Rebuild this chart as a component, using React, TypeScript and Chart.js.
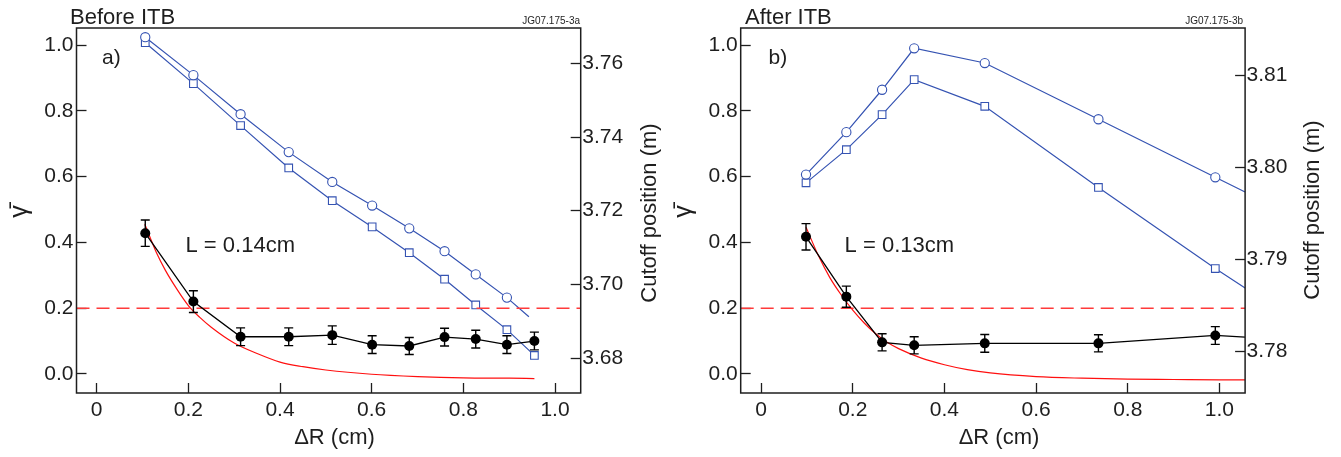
import { useEffect, useRef } from 'react';
import { Chart, registerables } from 'chart.js';

Chart.register(...registerables);

const FONT = '"Liberation Sans", Arial, Helvetica, sans-serif';
const INK = '#1e1e1e';
const BLUE = '#3553b2';

// ---- shared tick arrays ----
const xTickValues = [0, 0.2, 0.4, 0.6, 0.8, 1.0];
const xTickLabels = ['0', '0.2', '0.4', '0.6', '0.8', '1.0'];
const gammaTickValues = [0, 0.2, 0.4, 0.6, 0.8, 1.0];
const gammaTickLabels = ['0.0', '0.2', '0.4', '0.6', '0.8', '1.0'];
const threshold = 0.2;

// ---- panel a (Before ITB) ----
const aX = [0.106, 0.211, 0.314, 0.419, 0.514, 0.601, 0.682, 0.759, 0.827, 0.895, 0.955];
const aGamma = [0.428, 0.220, 0.113, 0.113, 0.118, 0.089, 0.085, 0.112, 0.106, 0.089, 0.100];
const aErr = [0.040, 0.033, 0.027, 0.027, 0.028, 0.027, 0.026, 0.027, 0.027, 0.027, 0.027];
const aCircleX = [0.106, 0.211, 0.314, 0.419, 0.514, 0.601, 0.682, 0.759, 0.827, 0.895, 0.943];
const aCircle = [3.7671, 3.7568, 3.7462, 3.7359, 3.7278, 3.7214, 3.7152, 3.7090, 3.7027, 3.6964, 3.6912];
const aSquareX = [0.106, 0.211, 0.314, 0.419, 0.514, 0.601, 0.682, 0.759, 0.827, 0.895, 0.955];
const aSquare = [3.7656, 3.7545, 3.7431, 3.7316, 3.7227, 3.7156, 3.7086, 3.7014, 3.6944, 3.6877, 3.6807];
const aFitX = [0.105, 0.13, 0.15, 0.175, 0.2, 0.225, 0.25, 0.3, 0.35, 0.4, 0.45, 0.5, 0.6, 0.7, 0.8, 0.9, 0.955];
const aFitY = [0.455, 0.37, 0.315, 0.258, 0.208, 0.172, 0.142, 0.094, 0.062, 0.036, 0.022, 0.012, -0.001, -0.008, -0.012, -0.013, -0.014];
const aCutoffTicks = [3.68, 3.70, 3.72, 3.74, 3.76];
const aCutoffLabels = ['3.68', '3.70', '3.72', '3.74', '3.76'];

// ---- panel b (After ITB) ----
const bX = [0.098, 0.186, 0.264, 0.334, 0.488, 0.736, 0.991, 1.056];
const bGamma = [0.417, 0.235, 0.096, 0.087, 0.093, 0.093, 0.117, 0.112];
const bErr = [0.040, 0.032, 0.026, 0.026, 0.027, 0.026, 0.027];
const bCircleX = [0.098, 0.186, 0.264, 0.334, 0.488, 0.736, 0.991, 1.056];
const bCircle = [3.7992, 3.8038, 3.8084, 3.8129, 3.8113, 3.8052, 3.7989, 3.7973];
const bSquareX = [0.098, 0.186, 0.264, 0.334, 0.488, 0.736, 0.991, 1.056];
const bSquare = [3.7983, 3.8019, 3.8057, 3.8095, 3.8066, 3.7978, 3.7890, 3.7869];
const bFitX = [0.098, 0.125, 0.15, 0.175, 0.2, 0.225, 0.25, 0.275, 0.3, 0.35, 0.4, 0.45, 0.5, 0.6, 0.7, 0.8, 0.9, 1.0, 1.056];
const bFitY = [0.446, 0.36, 0.293, 0.24, 0.194, 0.155, 0.122, 0.096, 0.077, 0.048, 0.028, 0.013, 0.003, -0.008, -0.013, -0.016, -0.017, -0.018, -0.018];
const bCutoffTicks = [3.78, 3.79, 3.80, 3.81];
const bCutoffLabels = ['3.78', '3.79', '3.80', '3.81'];

type Panel = {
  width: number;
  leftW: number;
  rightW: number;
  xMin: number;
  xMax: number;
  yMin: number;
  yMax: number;
  y2Min: number;
  y2Max: number;
  y2Ticks: number[];
  y2Labels: string[];
  gX: number[];
  g: number[];
  err: number[];
  gMarks: number;
  cX: number[];
  c: number[];
  cMarks: number;
  sX: number[];
  s: number[];
  sMarks: number;
  fX: number[];
  fY: number[];
  title: string;
  code: string;
  letter: string;
  lText: string;
  titleX: number;
  codeX: number;
  letterX: number;
  lX: number;
  gammaTitleX: number;
  cutTitleX: number;
  cutTitleY: number;
  xTitleX: number;
};

const panels: Panel[] = [
  {
    width: 670, leftW: 76.5, rightW: 89.3,
    xMin: -0.044, xMax: 1.056, yMin: -0.058, yMax: 1.052,
    y2Min: 3.6705, y2Max: 3.7696, y2Ticks: aCutoffTicks, y2Labels: aCutoffLabels,
    gX: aX, g: aGamma, err: aErr, gMarks: aX.length,
    cX: aCircleX, c: aCircle, cMarks: aCircleX.length - 1,
    sX: aSquareX, s: aSquare, sMarks: aSquareX.length,
    fX: aFitX, fY: aFitY,
    title: 'Before ITB', code: 'JG07.175-3a', letter: 'a)', lText: 'L = 0.14cm',
    titleX: 70, codeX: 580, letterX: 102, lX: 185.5,
    gammaTitleX: 20, cutTitleX: 650, cutTitleY: 213, xTitleX: 334.5,
  },
  {
    width: 671, leftW: 70.7, rightW: 95.9,
    xMin: -0.0445, xMax: 1.056, yMin: -0.058, yMax: 1.052,
    y2Min: 3.7755, y2Max: 3.8151, y2Ticks: bCutoffTicks, y2Labels: bCutoffLabels,
    gX: bX, g: bGamma, err: bErr, gMarks: bX.length - 1,
    cX: bCircleX, c: bCircle, cMarks: bCircleX.length - 1,
    sX: bSquareX, s: bSquare, sMarks: bSquareX.length - 1,
    fX: bFitX, fY: bFitY,
    title: 'After ITB', code: 'JG07.175-3b', letter: 'b)', lText: 'L = 0.13cm',
    titleX: 75, codeX: 573, letterX: 98.5, lX: 174.6,
    gammaTitleX: 14.5, cutTitleX: 643, cutTitleY: 210, xTitleX: 329,
  },
];

const decor = {
  id: 'decor',
  afterDatasetsDraw(chart: any, _args: any, opts: any) {
    const p: Panel = opts.panel;
    const { ctx, chartArea } = chart;
    const xs = chart.scales.x;
    const ys = chart.scales.y;
    ctx.save();
    // error bars
    ctx.strokeStyle = '#000';
    ctx.lineWidth = 1.4;
    p.err.forEach((e, i) => {
      const px = xs.getPixelForValue(p.gX[i]);
      const y1 = ys.getPixelForValue(p.g[i] + e);
      const y2 = ys.getPixelForValue(p.g[i] - e);
      ctx.beginPath();
      ctx.moveTo(px, y1);
      ctx.lineTo(px, y2);
      ctx.moveTo(px - 4.5, y1);
      ctx.lineTo(px + 4.5, y1);
      ctx.moveTo(px - 4.5, y2);
      ctx.lineTo(px + 4.5, y2);
      ctx.stroke();
    });
    // frame
    ctx.strokeStyle = INK;
    ctx.lineWidth = 1.5;
    ctx.strokeRect(chartArea.left, chartArea.top, chartArea.right - chartArea.left, chartArea.bottom - chartArea.top);
    ctx.restore();
  },
  afterDraw(chart: any, _args: any, opts: any) {
    const p: Panel = opts.panel;
    const { ctx, chartArea } = chart;
    ctx.save();
    ctx.fillStyle = INK;
    ctx.textAlign = 'left';
    ctx.textBaseline = 'alphabetic';
    ctx.font = `22px ${FONT}`;
    ctx.fillText(p.title, p.titleX, 24);
    ctx.font = `10px ${FONT}`;
    ctx.textAlign = 'right';
    ctx.fillText(p.code, p.codeX, 24);
    ctx.textAlign = 'left';
    ctx.font = `21px ${FONT}`;
    ctx.textBaseline = 'middle';
    ctx.fillText(p.letter, p.letterX, 58);
    ctx.textBaseline = 'alphabetic';
    ctx.font = `22px ${FONT}`;
    ctx.fillText(p.lText, p.lX, 252);
    // x title
    ctx.textAlign = 'center';
    ctx.textBaseline = 'middle';
    ctx.fillText('\u0394R (cm)', p.xTitleX, 438);
    // left y title
    const midY = (chartArea.top + chartArea.bottom) / 2;
    ctx.save();
    ctx.translate(p.gammaTitleX, midY + 1);
    ctx.rotate(-Math.PI / 2);
    ctx.font = `25px ${FONT}`;
    ctx.fillText('\u03B3\u0304', 0, 0);
    ctx.restore();
    // right y title
    ctx.save();
    ctx.translate(p.cutTitleX, p.cutTitleY);
    ctx.rotate(-Math.PI / 2);
    ctx.font = `22px ${FONT}`;
    ctx.fillText('Cutoff position (m)', 0, 0);
    ctx.restore();
    ctx.restore();
  },
};

function makeConfig(p: Panel): any {
  const tickFont = { family: FONT, size: 21 };
  const grid = {
    drawOnChartArea: false,
    drawTicks: true,
    tickLength: -10,
    tickColor: INK,
    tickWidth: 1.3,
  };
  return {
    type: 'line',
    data: {
      datasets: [
        {
          data: p.gX.map((x, i) => ({ x, y: p.g[i] })),
          yAxisID: 'y',
          borderColor: '#000',
          borderWidth: 1.3,
          pointRadius: (c: any) => (c.dataIndex < p.gMarks ? 5 : 0),
          pointBackgroundColor: '#000',
          pointBorderColor: '#000',
          pointBorderWidth: 0,
          tension: 0,
          order: 0,
        },
        {
          data: p.fX.map((x, i) => ({ x, y: p.fY[i] })),
          yAxisID: 'y',
          borderColor: '#ff1010',
          borderWidth: 1.2,
          pointRadius: 0,
          cubicInterpolationMode: 'monotone',
          order: 2,
        },
        {
          data: [
            { x: p.xMin, y: threshold },
            { x: p.xMax, y: threshold },
          ],
          yAxisID: 'y',
          borderColor: '#ff3a3a',
          borderWidth: 1.5,
          borderDash: [13, 7],
          pointRadius: 0,
          order: 3,
        },
        {
          data: p.cX.map((x, i) => ({ x, y: p.c[i] })),
          yAxisID: 'y2',
          borderColor: BLUE,
          borderWidth: 1.2,
          pointStyle: 'circle',
          pointRadius: (c: any) => (c.dataIndex < p.cMarks ? 4.6 : 0),
          pointBackgroundColor: '#fff',
          pointBorderColor: BLUE,
          pointBorderWidth: 1.1,
          tension: 0,
          order: 4,
        },
        {
          data: p.sX.map((x, i) => ({ x, y: p.s[i] })),
          yAxisID: 'y2',
          borderColor: BLUE,
          borderWidth: 1.2,
          pointStyle: 'rect',
          pointRadius: (c: any) => (c.dataIndex < p.sMarks ? 5.4 : 0),
          pointBackgroundColor: '#fff',
          pointBorderColor: BLUE,
          pointBorderWidth: 1.1,
          tension: 0,
          order: 5,
        },
      ],
    },
    options: {
      responsive: false,
      animation: false,
      events: [],
      layout: { padding: { top: 28, left: 0, right: 0, bottom: 0 } },
      plugins: {
        legend: { display: false },
        tooltip: { enabled: false },
        decor: { panel: p },
      },
      scales: {
        x: {
          type: 'linear',
          position: 'bottom',
          min: p.xMin,
          max: p.xMax,
          afterBuildTicks: (s: any) => {
            s.ticks = xTickValues.map((v) => ({ value: v }));
          },
          afterFit: (s: any) => {
            s.height = 64;
          },
          ticks: {
            callback: (_v: any, i: number) => xTickLabels[i],
            font: tickFont,
            color: INK,
            padding: 14.4,
            maxRotation: 0,
            autoSkip: false,
          },
          grid,
          border: { display: false },
        },
        y: {
          type: 'linear',
          position: 'left',
          min: p.yMin,
          max: p.yMax,
          afterBuildTicks: (s: any) => {
            s.ticks = gammaTickValues.map((v) => ({ value: v }));
          },
          afterFit: (s: any) => {
            s.width = p.leftW;
          },
          ticks: {
            callback: (_v: any, i: number) => gammaTickLabels[i],
            font: tickFont,
            color: INK,
            padding: 13,
            autoSkip: false,
          },
          grid,
          border: { display: false },
        },
        y2: {
          type: 'linear',
          position: 'right',
          min: p.y2Min,
          max: p.y2Max,
          afterBuildTicks: (s: any) => {
            s.ticks = p.y2Ticks.map((v) => ({ value: v }));
          },
          afterFit: (s: any) => {
            s.width = p.rightW;
          },
          ticks: {
            callback: (_v: any, i: number) => p.y2Labels[i],
            font: tickFont,
            color: INK,
            padding: 11.5,
            autoSkip: false,
          },
          grid,
          border: { display: false },
        },
      },
    },
    plugins: [decor],
  };
}

function PanelChart({ p, left }: { p: Panel; left: number }) {
  const ref = useRef<HTMLCanvasElement | null>(null);
  useEffect(() => {
    if (!ref.current) return;
    const chart = new Chart(ref.current, makeConfig(p));
    return () => chart.destroy();
  }, [p]);
  return (
    <canvas
      ref={ref}
      width={p.width}
      height={457}
      style={{ position: 'absolute', left, top: 0, width: p.width, height: 457 }}
    />
  );
}

export default function App() {
  return (
    <div
      style={{
        position: 'fixed',
        left: 0,
        top: 0,
        width: 1341,
        height: 457,
        background: '#fff',
        overflow: 'hidden',
      }}
    >
      <PanelChart p={panels[0]} left={0} />
      <PanelChart p={panels[1]} left={670} />
    </div>
  );
}
